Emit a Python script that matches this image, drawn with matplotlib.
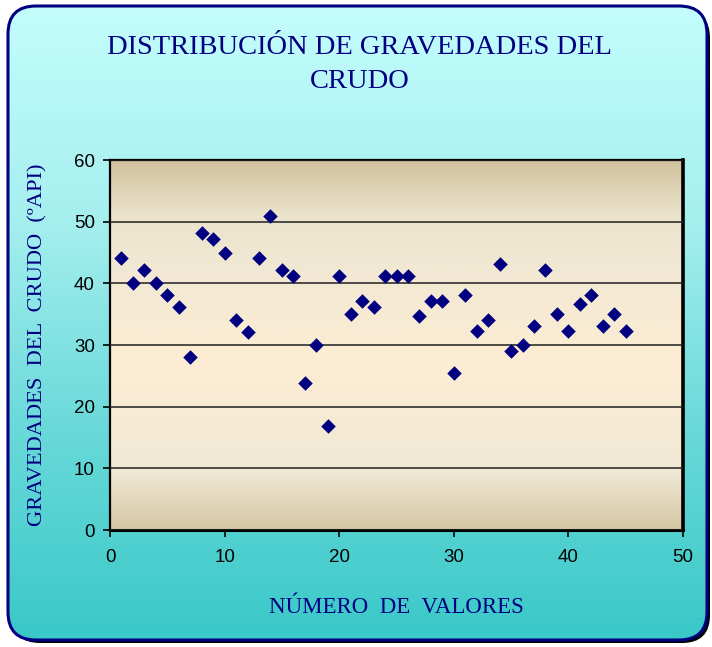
import numpy as np
import matplotlib.pyplot as plt
from matplotlib.colors import LinearSegmentedColormap
from matplotlib.patches import FancyBboxPatch

# gravedad API de cada muestra de crudo
muestras = list(range(1, 46))
gravedad_api = [44.1, 40.0, 42.1, 40.0, 38.1, 36.2, 28.0, 48.2, 47.2, 45.0,
                34.1, 32.1, 44.1, 51.0, 42.2, 41.2, 23.9, 30.0, 16.9, 41.2,
                35.0, 37.1, 36.2, 41.2, 41.2, 41.2, 34.7, 37.1, 37.1, 25.5,
                38.1, 32.2, 34.1, 43.1, 29.0, 30.0, 33.1, 42.1, 35.0, 32.2,
                36.6, 38.1, 33.1, 35.0, 32.2]

titulo = "DISTRIBUCIÓN DE GRAVEDADES DEL\nCRUDO"
etiqueta_x = "NÚMERO  DE  VALORES"
etiqueta_y = "GRAVEDADES  DEL  CRUDO  (ºAPI)"

azul = "#000080"

fig = plt.figure(figsize=(7.12, 6.47), dpi=100)

# fondo redondeado con degradado cian
bg = fig.add_axes([0, 0, 1, 1])
bg.set_xlim(0, 712)
bg.set_ylim(647, 0)
bg.axis("off")
shadow = FancyBboxPatch((12, 10), 698, 633, boxstyle="round,pad=0,rounding_size=28",
                        fc="black", ec="none", zorder=0)
bg.add_patch(shadow)
frame = FancyBboxPatch((8, 6), 699, 634, boxstyle="round,pad=0,rounding_size=28",
                       fc="none", ec=azul, lw=2.2, zorder=3)
bg.add_patch(frame)
cmap_bg = LinearSegmentedColormap.from_list("fondo", ["#c4fdfd", "#a6efef", "#6ad9d9", "#3ac8c8"])
grad = np.linspace(0, 1, 256).reshape(-1, 1)
img = bg.imshow(grad, cmap=cmap_bg, extent=(8, 707, 640, 6), aspect="auto", zorder=1)
img.set_clip_path(FancyBboxPatch((8, 6), 699, 634, boxstyle="round,pad=0,rounding_size=28",
                                 transform=bg.transData))

# area de trazado
ax = fig.add_axes([0.1545, 0.1808, 0.8048, 0.5719])
cmap_plot = LinearSegmentedColormap.from_list(
    "area", [(0, "#d4c7a4"), (0.16, "#f0e9d6"), (0.45, "#fdedd3"),
             (0.72, "#f1e8d3"), (0.85, "#ece3cd"), (1, "#cfc19c")])
ax.imshow(grad, cmap=cmap_plot, extent=(0, 50, 0, 60), aspect="auto",
          origin="lower", zorder=0)

ax.scatter(muestras, gravedad_api, marker="D", s=55, color=azul, zorder=3,
           linewidths=0)

ax.set_xlim(0, 50)
ax.set_ylim(0, 60)
ax.set_xticks(range(0, 51, 10))
ax.set_yticks(range(0, 61, 10))
ax.grid(axis="y", color="#202020", lw=1.1, zorder=1)
ax.set_axisbelow(False)
ax.tick_params(direction="out", length=5, width=1.2, labelsize=13.5,
               labelfontfamily="Liberation Sans")
ax.tick_params(axis="x", pad=9)
ax.tick_params(axis="y", pad=6)
for s in ax.spines.values():
    s.set_color("black")
    s.set_linewidth(1.6)
ax.spines["right"].set_linewidth(2.6)
ax.spines["bottom"].set_linewidth(2.2)

ax.set_xlabel(etiqueta_x, family="Liberation Serif", fontsize=16.5, color=azul, labelpad=22)
ax.set_ylabel(etiqueta_y, family="Liberation Serif", fontsize=16.2, color=azul, labelpad=19)

fig.text(0.505, 0.9, titulo, ha="center", va="center", family="Liberation Serif",
         fontsize=20.5, color=azul, linespacing=1.45)

fig.savefig("out.png", dpi=100)
